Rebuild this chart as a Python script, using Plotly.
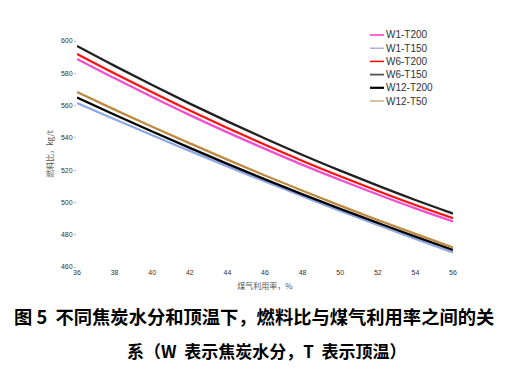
import plotly.graph_objects as go

# Data
x_vals = [36, 38, 40, 42, 44, 46, 48, 50, 52, 54, 56]
w1_t200 = [588.9, 576.9, 565.3, 554.1, 543.4, 533.2, 523.3, 513.9, 504.9, 496.3, 488.2]
w1_t150 = [561.6, 551.5, 541.6, 531.9, 522.3, 513.0, 503.8, 494.8, 486.0, 477.4, 469.0]
w6_t200 = [592.0, 579.9, 568.2, 556.9, 546.1, 535.7, 525.7, 516.2, 507.1, 498.4, 490.2]
w6_t150 = [596.9, 584.6, 572.7, 561.2, 550.2, 539.6, 529.4, 519.7, 510.4, 501.5, 493.1]
w12_t200 = [565.0, 554.3, 543.9, 533.8, 523.9, 514.3, 505.0, 496.0, 487.3, 478.8, 470.6]
w12_t50 = [568.4, 557.5, 546.9, 536.6, 526.5, 516.7, 507.2, 498.0, 489.1, 480.5, 472.1]

series_names = ["W1-T200", "W1-T150", "W6-T200", "W6-T150", "W12-T200", "W12-T50"]
series_values = [w1_t200, w1_t150, w6_t200, w6_t150, w12_t200, w12_t50]
line_colors = ["#f050d0", "#8ea8e4", "#ff1010", "#202020", "#000000", "#bd8a40"]
legend_colors = ["#ff33cc", "#9a9ad8", "#ff0000", "#555555", "#000000", "#cfae84"]
legend_widths = [1.5, 1.2, 1.5, 1.8, 2.2, 1.5]

x_ticks = [36, 38, 40, 42, 44, 46, 48, 50, 52, 54, 56]
y_ticks = [460, 480, 500, 520, 540, 560, 580, 600]

x_title = "煤气利用率，%"
y_title = "燃料比，kg/t"
caption1 = "图 5  不同焦炭水分和顶温下，燃料比与煤气利用率之间的关"
caption2 = "系（W  表示焦炭水分，T  表示顶温）"

# page body has an 8px margin; work in screenshot pixels and subtract it
OFF = 8
W, H = 511 - 2 * OFF, 373 - 2 * OFF
L, R, T, B = 77 - OFF, 453 - OFF, 41 - OFF, 267 - OFF

def px(x):
    return (x - OFF - L) / (R - L)

def py(y):
    return (B - (y - OFF)) / (B - T)

fig = go.Figure()
for name, vals, col in zip(series_names, series_values, line_colors):
    fig.add_trace(go.Scatter(x=x_vals, y=vals, mode="lines", name=name,
                             line=dict(color=col, width=2.3, shape="spline"),
                             showlegend=False))

shapes = []
annotations = []
leg_y0 = 35
leg_dy = 13.2
for i, (name, col, lw) in enumerate(zip(series_names, legend_colors, legend_widths)):
    yy = leg_y0 + i * leg_dy
    shapes.append(dict(type="line", xref="paper", yref="paper",
                       x0=px(370), x1=px(384), y0=py(yy), y1=py(yy),
                       line=dict(color=col, width=lw)))
    annotations.append(dict(text=name, xref="paper", yref="paper",
                            x=px(384), y=py(yy), xanchor="left", yanchor="middle",
                            showarrow=False,
                            font=dict(family="Liberation Sans, Arial", size=10, color="#333333")))

annotations.append(dict(text="<b>" + caption1 + "</b>", xref="paper", yref="paper",
                        x=px(254), y=py(316), xanchor="center", yanchor="middle",
                        showarrow=False,
                        font=dict(family="Noto Sans CJK SC", size=18.3, color="#000000")))
annotations.append(dict(text="<b>" + caption2 + "</b>", xref="paper", yref="paper",
                        x=px(267), y=py(350), xanchor="center", yanchor="middle",
                        showarrow=False,
                        font=dict(family="Noto Sans CJK SC", size=17, color="#000000")))

fig.update_layout(
    width=W, height=H,
    margin=dict(l=L, r=W - R, t=T, b=H - B, pad=0),
    paper_bgcolor="white", plot_bgcolor="white",
    shapes=shapes, annotations=annotations,
    xaxis=dict(range=[36, 56], tickvals=x_ticks, showgrid=False, zeroline=False,
               showline=False, ticks="", ticklen=2,
               tickfont=dict(family="Liberation Sans, Arial", size=7, color="#333333"),
               title=dict(text=x_title, standoff=8,
                          font=dict(family="Noto Sans CJK SC", size=8, color="#555555"))),
    yaxis=dict(range=[460, 600], tickvals=y_ticks, showgrid=False, zeroline=False,
               showline=False, ticks="outside", ticklen=2, tickcolor="#bbbbbb",
               tickfont=dict(family="Liberation Sans, Arial", size=7, color="#333333"),
               title=dict(text=y_title, standoff=6,
                          font=dict(family="Noto Sans CJK SC", size=8, color="#555555"))),
)

fig.write_html("out.html")
